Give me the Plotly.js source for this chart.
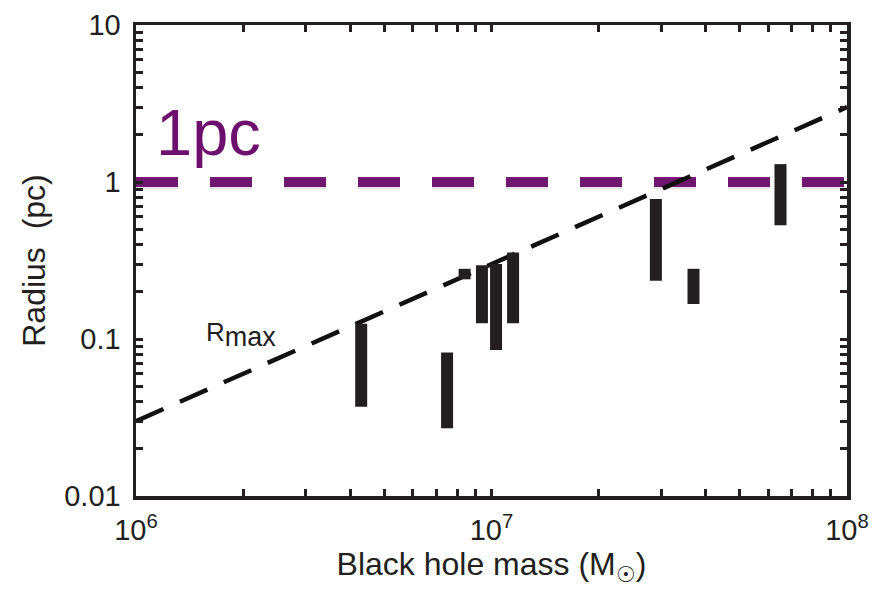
<!DOCTYPE html>
<html>
<head>
<meta charset="utf-8">
<script src="https://cdn.plot.ly/plotly-3.0.1.min.js"></script>
<style>html,body{margin:0;padding:0;background:#fff;}#chart{width:888px;height:594px;}</style>
</head>
<body>
<div id="chart"></div>
<script>
// Black hole mass (solar masses) and radius ranges (pc) of each object
var mass    = [4.3e6, 7.5e6, 8.4e6, 9.4e6, 1.03e7, 1.15e7, 2.9e7, 3.7e7, 6.5e7];
var rTop    = [0.125, 0.082, 0.28, 0.295, 0.30, 0.355, 0.78, 0.28, 1.30];
var rBottom = [0.037, 0.027, 0.24, 0.126, 0.085, 0.126, 0.235, 0.167, 0.53];

// Rmax relation
var rmaxMass = [1e6, 1e8];
var rmaxR    = [0.03, 3];

// 1 pc reference line
var pcMass = [1e6, 1e8];
var pcR    = [1, 1];

// ticks
var xTickVals = [1e6,2e6,3e6,4e6,5e6,6e6,7e6,8e6,9e6,1e7,2e7,3e7,4e7,5e7,6e7,7e7,8e7,9e7,1e8];
var xTickText = ['10<sup>6</sup>','','','','','','','','','10<sup>7</sup>','','','','','','','','','10<sup>8</sup>'];
var yTickVals = [0.01,0.02,0.03,0.04,0.05,0.06,0.07,0.08,0.09,0.1,0.2,0.3,0.4,0.5,0.6,0.7,0.8,0.9,1,2,3,4,5,6,7,8,9,10];
var yTickText = ['0.01','','','','','','','','','0.1','','','','','','','','','1','','','','','','','','','10'];

var bx = [], by = [];
for (var i = 0; i < mass.length; i++) {
  bx.push(mass[i], mass[i], null);
  by.push(rBottom[i], rTop[i], null);
}

var traces = [
  {x: pcMass, y: pcR, mode: 'lines', hoverinfo: 'skip', showlegend: false,
   line: {color: 'rgba(0,0,0,0.10)', width: 11, dash: '42px,32px'}, yaxis: 'y2'},
  {x: pcMass, y: pcR, mode: 'lines', hoverinfo: 'skip', showlegend: false,
   line: {color: '#7c1a7c', width: 10, dash: '42px,32px'}},
  {x: rmaxMass, y: rmaxR, mode: 'lines', hoverinfo: 'skip', showlegend: false,
   line: {color: '#111', width: 4.5, dash: '30px,18px'}},
  {x: bx, y: by, mode: 'lines', hoverinfo: 'skip', showlegend: false,
   line: {color: '#231f20', width: 12}}
];

var fam = 'Liberation Sans, Arial, sans-serif';
var tickFont = {family: fam, size: 29, color: '#231f20'};
var titleFont = {family: fam, size: 32, color: '#231f20'};

var layout = {
  width: 888, height: 594,
  margin: {l: 136, r: 41, t: 25, b: 98},
  paper_bgcolor: '#fff', plot_bgcolor: '#fff',
  font: tickFont,
  xaxis: {
    type: 'log', range: [6, 8], tickmode: 'array', tickvals: xTickVals, ticktext: xTickText,
    ticks: 'inside', ticklen: 7, tickwidth: 3, tickcolor: '#231f20',
    showline: true, linewidth: 3.5, linecolor: '#231f20', mirror: 'ticks',
    showgrid: false, zeroline: false, tickfont: tickFont, ticklabelstandoff: 6,
    title: {text: 'Black hole mass (M<sub>☉</sub>)', font: titleFont, standoff: 8}
  },
  yaxis: {
    type: 'log', range: [-2, 1], tickmode: 'array', tickvals: yTickVals, ticktext: yTickText,
    ticks: 'inside', ticklen: 7, tickwidth: 3, tickcolor: '#231f20',
    showline: true, linewidth: 3.5, linecolor: '#231f20', mirror: 'ticks',
    showgrid: false, zeroline: false, tickfont: tickFont, ticklabelstandoff: 6,
    title: {text: 'Radius  (pc)', font: titleFont, standoff: 10}
  },
  yaxis2: {
    type: 'log', range: [-1.987, 1.013], overlaying: 'y', visible: false
  },
  annotations: [
    {x: Math.log10(1.12e6), y: 0, xref: 'x', yref: 'y', text: '1pc', showarrow: false,
     xanchor: 'left', yanchor: 'bottom', yshift: 11,
     font: {family: fam, size: 65, color: '#6d0f6d'}},
    {x: Math.log10(1.55e6), y: -0.97, xref: 'x', yref: 'y',
     text: 'R<sub><span style="font-size:27px">max</span></sub>', showarrow: false,
     xanchor: 'left', yanchor: 'middle',
     font: {family: fam, size: 26, color: '#231f20'}}
  ]
};

Plotly.newPlot('chart', traces, layout, {displayModeBar: false, staticPlot: true});
</script>
</body>
</html>
